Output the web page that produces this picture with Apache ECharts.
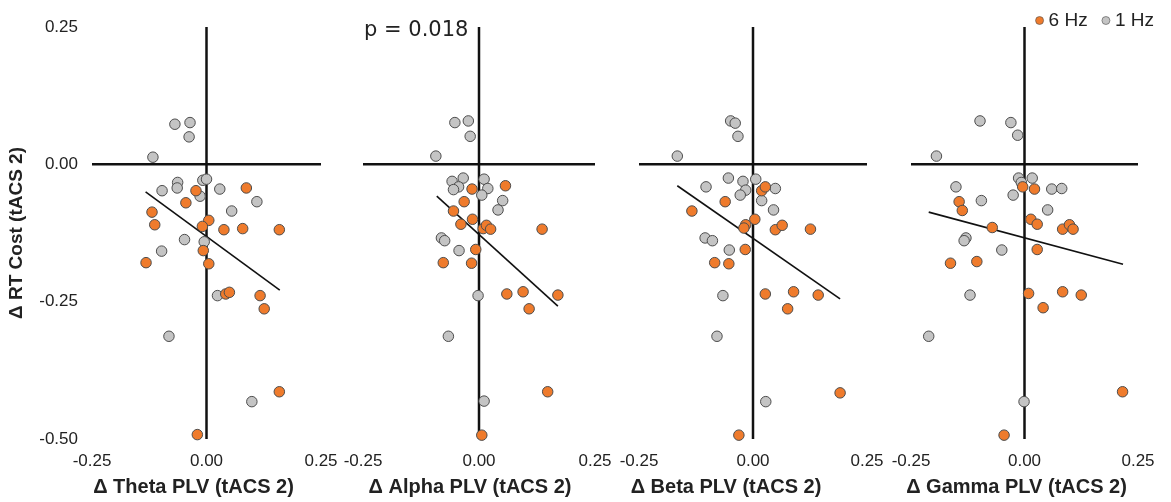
<!DOCTYPE html>
<html>
<head>
<meta charset="utf-8">
<script src="https://cdn.jsdelivr.net/npm/echarts@6/dist/echarts.min.js"></script>
<style>html,body{margin:0;padding:0;background:#fff}#c{width:1171px;height:502px}</style>
</head>
<body>
<div id="c"></div>
<script>
// ---- data ----
const panelNames = ['Δ Theta PLV (tACS 2)', 'Δ Alpha PLV (tACS 2)', 'Δ Beta PLV (tACS 2)', 'Δ Gamma PLV (tACS 2)'];
const yTitle = 'Δ RT Cost (tACS 2)';
const seriesNames = ['6 Hz', '1 Hz'];
const xTicks = [-0.25, 0, 0.25];
const yTicks = [-0.5, -0.25, 0, 0.25];
const pText = 'p = 0.018';

const theta6 = [[0.087,-0.043],[-0.023,-0.048],[-0.045,-0.070],[-0.119,-0.087],[-0.113,-0.110],[0.005,-0.102],[-0.009,-0.113],[0.038,-0.119],[0.079,-0.117],[0.159,-0.119],[-0.007,-0.157],[-0.132,-0.179],[0.005,-0.181],[0.042,-0.236],[0.050,-0.233],[0.117,-0.239],[0.126,-0.263],[0.159,-0.414],[-0.020,-0.492]];
const theta1 = [[-0.069,0.073],[-0.036,0.076],[-0.038,0.050],[-0.117,0.013],[-0.063,-0.033],[-0.064,-0.043],[-0.097,-0.048],[-0.008,-0.029],[0.000,-0.027],[-0.014,-0.058],[0.029,-0.045],[0.110,-0.068],[0.055,-0.085],[-0.048,-0.137],[-0.005,-0.141],[-0.098,-0.158],[0.024,-0.239],[-0.082,-0.313],[0.099,-0.432]];
const alpha6 = [[-0.015,-0.045],[0.057,-0.039],[-0.032,-0.068],[-0.055,-0.085],[-0.014,-0.100],[-0.039,-0.109],[0.009,-0.117],[0.016,-0.111],[0.025,-0.118],[0.136,-0.118],[-0.007,-0.155],[-0.077,-0.179],[-0.016,-0.180],[0.060,-0.236],[0.095,-0.232],[0.170,-0.238],[0.108,-0.263],[0.148,-0.414],[0.006,-0.493]];
const alpha1 = [[-0.052,0.076],[-0.023,0.079],[-0.019,0.051],[-0.093,0.015],[-0.058,-0.031],[-0.034,-0.025],[-0.044,-0.041],[-0.055,-0.046],[0.011,-0.027],[0.019,-0.044],[0.006,-0.056],[0.051,-0.066],[0.041,-0.083],[-0.081,-0.134],[-0.074,-0.139],[-0.043,-0.157],[-0.002,-0.239],[-0.066,-0.313],[0.011,-0.431]];
const beta6 = [[0.019,-0.048],[0.027,-0.041],[-0.061,-0.068],[-0.134,-0.085],[0.004,-0.100],[-0.016,-0.110],[-0.020,-0.116],[0.049,-0.119],[0.064,-0.111],[0.126,-0.118],[-0.017,-0.155],[-0.084,-0.179],[-0.053,-0.181],[0.027,-0.236],[0.089,-0.232],[0.143,-0.238],[0.076,-0.263],[0.191,-0.416],[-0.031,-0.493]];
const beta1 = [[-0.049,0.079],[-0.039,0.075],[-0.033,0.051],[-0.166,0.015],[-0.054,-0.025],[-0.022,-0.031],[0.006,-0.027],[-0.103,-0.041],[-0.016,-0.047],[-0.028,-0.056],[0.049,-0.044],[0.019,-0.066],[0.045,-0.083],[-0.105,-0.134],[-0.089,-0.139],[-0.052,-0.156],[-0.066,-0.239],[-0.079,-0.313],[0.028,-0.432]];
const gamma6 = [[-0.004,-0.041],[0.022,-0.045],[-0.144,-0.068],[-0.137,-0.084],[-0.071,-0.115],[0.014,-0.100],[0.028,-0.109],[0.084,-0.118],[0.099,-0.110],[0.107,-0.118],[0.028,-0.155],[-0.163,-0.180],[-0.105,-0.177],[0.009,-0.235],[0.084,-0.232],[0.125,-0.238],[0.041,-0.261],[0.216,-0.414],[-0.045,-0.493]];
const gamma1 = [[-0.098,0.079],[-0.030,0.076],[-0.015,0.053],[-0.194,0.015],[-0.013,-0.025],[0.017,-0.025],[-0.007,-0.033],[-0.151,-0.041],[0.060,-0.045],[0.082,-0.044],[-0.025,-0.056],[-0.095,-0.066],[0.051,-0.083],[-0.129,-0.134],[-0.133,-0.139],[-0.050,-0.156],[-0.120,-0.238],[-0.211,-0.313],[-0.001,-0.432]];
const thetaFit = [[-0.133,-0.050],[0.160,-0.229]];
const alphaFit = [[-0.091,-0.058],[0.170,-0.258]];
const betaFit = [[-0.166,-0.039],[0.191,-0.245]];
const gammaFit = [[-0.211,-0.087],[0.217,-0.182]];
const hLine = [[-0.25,0],[0.25,0]];
const vLine = [[0,0.25],[0,-0.5]];

// ---- layout ----
const six = [theta6, alpha6, beta6, gamma6];
const one = [theta1, alpha1, beta1, gamma1];
const fits = [thetaFit, alphaFit, betaFit, gammaFit];
const gridBox = [{left:92,width:229},{left:363,width:232},{left:639,width:228},{left:911,width:227}];
const nameShift = [26, 18, 54, 16];
const ORANGE = '#EF7B2C', GRAY = '#C4C4C4', EDGE = '#4d4d4d';
const SANS = '"Liberation Sans", Arial, sans-serif';

const grids = [], xAxes = [], yAxes = [], series = [];
gridBox.forEach((g, i) => {
  grids.push({left:g.left, width:g.width, top:27, height:413});
  xAxes.push({
    type:'value', gridIndex:i, min:xTicks[0], max:xTicks[xTicks.length-1], interval:0.25,
    axisLine:{show:false}, axisTick:{show:false}, splitLine:{show:false},
    axisLabel:{show:true, margin:14, fontSize:17, color:'#222', fontFamily:SANS,
      formatter:v => v.toFixed(2)},
    name:panelNames[i], nameLocation:'middle', nameGap:38,
    nameTextStyle:{fontSize:20, fontWeight:'bold', color:'#222', fontFamily:SANS, padding:[0, nameShift[i], 0, 0]}
  });
  yAxes.push({
    type:'value', gridIndex:i, min:yTicks[0], max:yTicks[yTicks.length-1], interval:0.25,
    axisLine:{show:false}, axisTick:{show:false}, splitLine:{show:false},
    axisLabel:{show:i===0, margin:14, fontSize:17, color:'#222', fontFamily:SANS,
      formatter:v => v.toFixed(2)},
    name:i===0 ? yTitle : '', nameLocation:'middle', nameGap:66,
    nameTextStyle:{fontSize:19, fontWeight:'bold', color:'#222', fontFamily:SANS}
  });
  const lineBase = {type:'line', xAxisIndex:i, yAxisIndex:i, symbol:'none', silent:true, z:1, animation:false};
  series.push(Object.assign({}, lineBase, {data:hLine, lineStyle:{color:'#111', width:2.5}}));
  series.push(Object.assign({}, lineBase, {data:vLine, lineStyle:{color:'#111', width:2.5}}));
  series.push(Object.assign({}, lineBase, {data:fits[i], lineStyle:{color:'#111', width:1.6}}));
  series.push({type:'scatter', name:seriesNames[1], xAxisIndex:i, yAxisIndex:i, data:one[i], symbolSize:10.5, z:3,
    itemStyle:{color:GRAY, borderColor:EDGE, borderWidth:1, opacity:1}, animation:false});
  series.push({type:'scatter', name:seriesNames[0], xAxisIndex:i, yAxisIndex:i, data:six[i], symbolSize:10.5, z:4,
    itemStyle:{color:ORANGE, borderColor:EDGE, borderWidth:1, opacity:1}, animation:false});
});

const chart = echarts.init(document.getElementById('c'), null, {renderer:'canvas'});
chart.setOption({
  backgroundColor:'#fff',
  animation:false,
  legend:{data:seriesNames, right:12, top:6, icon:'circle', itemWidth:8, itemHeight:8, itemGap:14,
    itemStyle:{borderWidth:0.6},
    textStyle:{fontSize:19, color:'#222', fontFamily:SANS, padding:[0,0,0,0]}},
  graphic:[{type:'text', left:364, top:20, style:{text:pText, fontSize:21, fill:'#222',
    fontFamily:'"DejaVu Sans", sans-serif'}}],
  grid:grids, xAxis:xAxes, yAxis:yAxes, series:series
});
</script>
</body>
</html>
